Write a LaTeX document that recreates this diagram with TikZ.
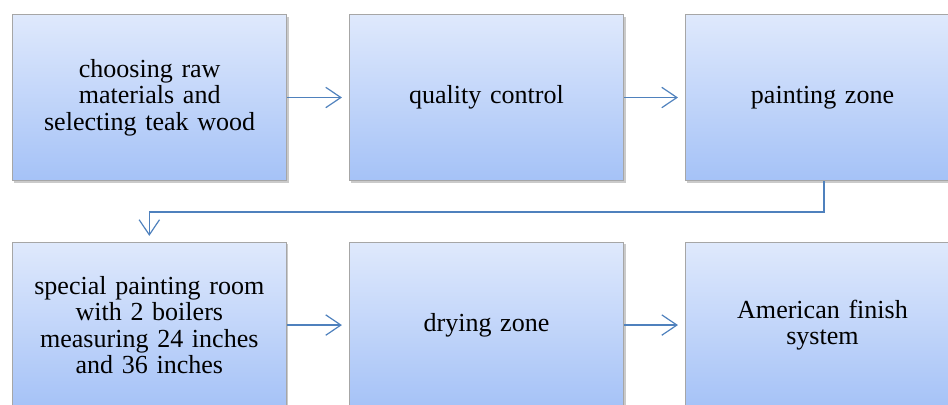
\documentclass[tikz,border=0pt]{standalone}
\usepackage{fontspec}
\setmainfont{Liberation Serif}
\usetikzlibrary{arrows.meta,shadows}

\definecolor{boxtop}{HTML}{DFE9FC}
\definecolor{boxbot}{HTML}{A5C2F7}
\definecolor{boxline}{HTML}{A6A6A6}
\definecolor{flow}{HTML}{4F81BD}

\begin{document}
\begin{tikzpicture}[
  stage/.style={rectangle, draw=boxline, line width=0.8pt, top color=boxtop, bottom color=boxbot,
                minimum width=7.26cm, minimum height=4.39cm, text width=6.6cm, align=center,
                font=\fontsize{19.6}{19.9}\selectfont,
                drop shadow={shadow xshift=0.5mm, shadow yshift=-0.6mm, opacity=0.35, fill=black!60}},
  flowarrow/.style={-{Straight Barb[length=4mm, width=5.4mm, line width=0.9pt]}, draw=flow, line width=0.9pt},
]

\useasboundingbox (0,0) rectangle (25.08,10.69);

\node[stage] (choose) at (3.96, 8.11) {choosing raw\\materials and\\selecting teak wood};
\node[stage] (quality) at (12.87, 8.11) {quality control};
\node[stage] (paint) at (21.76, 8.11) {painting zone};
\node[stage] (room) at (3.95, 2.09) {special painting room\\with 2 boilers\\measuring 24 inches\\and 36 inches};
\node[stage] (dry) at (12.87, 2.09) {drying zone};
\node[stage] (finish) at (21.76, 2.09) {American finish\\system};

\coordinate (turn) at (21.80, 5.08);

\draw[flowarrow] (choose.east) -- ([xshift=-1.8mm]quality.west);
\draw[flowarrow] (quality.east) -- ([xshift=-1.8mm]paint.west);
\draw[flowarrow] (paint.south -| turn) -- (turn) -| ([yshift=1.5mm]room.north);
\draw[flowarrow] (room.east) -- ([xshift=-1.8mm]dry.west);
\draw[flowarrow] (dry.east) -- ([xshift=-1.8mm]finish.west);

\end{tikzpicture}
\end{document}
